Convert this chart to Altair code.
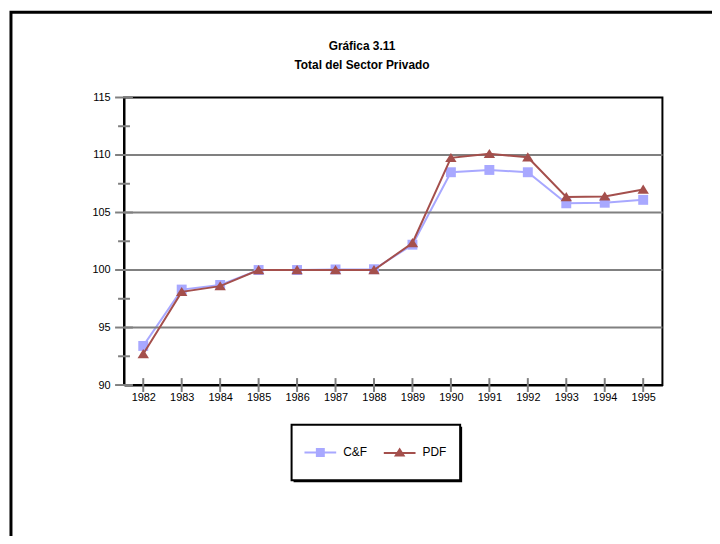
import altair as alt
import pandas as pd

years = [1982, 1983, 1984, 1985, 1986, 1987, 1988, 1989, 1990, 1991, 1992, 1993, 1994, 1995]
cf = [93.4, 98.3, 98.7, 100.0, 100.0, 100.05, 100.07, 102.2, 108.5, 108.7, 108.5, 105.8, 105.85, 106.1]
pdf = [92.7, 98.1, 98.6, 100.0, 100.0, 100.0, 100.0, 102.35, 109.75, 110.1, 109.8, 106.35, 106.4, 107.0]
series_names = ["C&F", "PDF"]
series_colors = ["#a8a8ff", "#a44f4c"]
y_labels = [90, 95, 100, 105, 110, 115]
y_minor = [92.5, 97.5, 102.5, 107.5, 112.5]
grid_vals = [95, 100, 105, 110]
title_lines = ["Gráfica 3.11", "Total del Sector Privado"]

W, H = 543, 290
FONT = "Liberation Sans"

rows = []
for y, a, b in zip(years, cf, pdf):
    rows.append({"year": y, "series": "C&F", "value": a})
    rows.append({"year": y, "series": "PDF", "value": b})
df = pd.DataFrame(rows)

xscale = alt.Scale(type="point", padding=0.5)
yscale = alt.Scale(domain=[90, 115], nice=False, zero=False)

x_axis = alt.Axis(title=None, labelAngle=0, ticks=False, domainColor="black",
                  domainWidth=2, labelPadding=7, labelFont=FONT, labelFontSize=11,
                  labelColor="black", grid=False)
y_axis = alt.Axis(title=None, values=y_labels, ticks=False, domainColor="black",
                  domainWidth=2, labelPadding=14, labelFont=FONT, labelFontSize=11,
                  labelColor="black", grid=False)
x_enc = alt.X("year:O", scale=xscale, axis=x_axis)
y_enc = alt.Y("value:Q", scale=yscale, axis=y_axis)

base = alt.Chart(df)

grid = alt.Chart(pd.DataFrame({"value": grid_vals})).mark_rule(color="#808080", strokeWidth=2).encode(
    y=y_enc)

ymaj = alt.Chart(pd.DataFrame({"value": y_labels})).mark_rule(color="#808080", strokeWidth=2).encode(
    y=y_enc, x=alt.value(-9), x2=alt.value(9))
ymin = alt.Chart(pd.DataFrame({"value": y_minor})).mark_rule(color="#808080", strokeWidth=2).encode(
    y=y_enc, x=alt.value(-6), x2=alt.value(6))
xt = alt.Chart(pd.DataFrame({"year": years})).mark_rule(color="#808080", strokeWidth=2).encode(
    x=x_enc, y=alt.value(H - 7), y2=alt.value(H + 7))

cf_line = base.transform_filter(alt.datum.series == "C&F").mark_line(
    color=series_colors[0], strokeWidth=2).encode(x=x_enc, y=y_enc)
cf_pts = base.transform_filter(alt.datum.series == "C&F").mark_point(
    shape="square", filled=True, size=100, opacity=1, color=series_colors[0]).encode(x=x_enc, y=y_enc)
pdf_line = base.transform_filter(alt.datum.series == "PDF").mark_line(
    color=series_colors[1], strokeWidth=2).encode(x=x_enc, y=y_enc)
pdf_pts = base.transform_filter(alt.datum.series == "PDF").mark_point(
    shape="M0,-1L1.15,0.85H-1.15Z", filled=True, size=100, opacity=1,
    color=series_colors[1]).encode(x=x_enc, y=y_enc)

# legend box with shadow (decoration)
box_shadow = alt.Chart(pd.DataFrame({"k": [0]})).mark_rect(color="black").encode(
    x=alt.value(171), x2=alt.value(341), y=alt.value(332), y2=alt.value(388))
box = alt.Chart(pd.DataFrame({"k": [0]})).mark_rect(fill="white", stroke="black", strokeWidth=2).encode(
    x=alt.value(169), x2=alt.value(339), y=alt.value(330), y2=alt.value(386))

sq_path = "M-0.9,-0.9H0.9V0.9H-0.9Z M-3.2,-0.2H3.2V0.2H-3.2Z"
tri_path = "M0,-1L1.15,0.8H-1.15Z M-3.2,-0.1H3.2V0.3H-3.2Z"
leg = alt.Legend(orient="none", legendX=192, legendY=352, direction="horizontal", title=None,
                 padding=0, symbolSize=100, symbolStrokeWidth=0, symbolOpacity=1,
                 labelFont=FONT, labelFontSize=12, labelColor="black", labelOffset=17,
                 columnPadding=17)
legend_layer = base.mark_point(filled=True, opacity=0, size=100).encode(
    x=x_enc, y=y_enc,
    color=alt.Color("series:N", scale=alt.Scale(domain=series_names, range=series_colors), legend=leg),
    shape=alt.Shape("series:N", scale=alt.Scale(domain=series_names, range=[sq_path, tri_path]), legend=leg),
)

frame = alt.Chart(pd.DataFrame({"k": [0]})).mark_rect(fillOpacity=0, stroke="black", strokeWidth=3).encode(
    x=alt.value(-114), x2=alt.value(700), y=alt.value(-86), y2=alt.value(600))

title1 = alt.Chart(pd.DataFrame({"line": [title_lines[0]]})).mark_text(
    font=FONT, fontSize=12, fontWeight="bold", color="black", align="center", baseline="middle").encode(
    text="line:N", x=alt.value(240), y=alt.value(-52))
title2 = alt.Chart(pd.DataFrame({"line": [title_lines[1]]})).mark_text(
    font=FONT, fontSize=12, fontWeight="bold", color="black", align="center", baseline="middle").encode(
    text="line:N", x=alt.value(240), y=alt.value(-33))

chart = alt.layer(
    cf_line, frame, grid, ymaj, ymin, xt, cf_pts, pdf_line, pdf_pts, box_shadow, box, legend_layer,
    title1, title2
).properties(
    width=W, height=H,
    background="white",
    autosize=alt.AutoSizeParams(type="none"),
    padding={"left": 117, "top": 88, "right": 50, "bottom": 150},
).configure_view(
    stroke="black", strokeWidth=2
)

chart.save("out.html", embed_options={"renderer": "svg", "actions": False})
